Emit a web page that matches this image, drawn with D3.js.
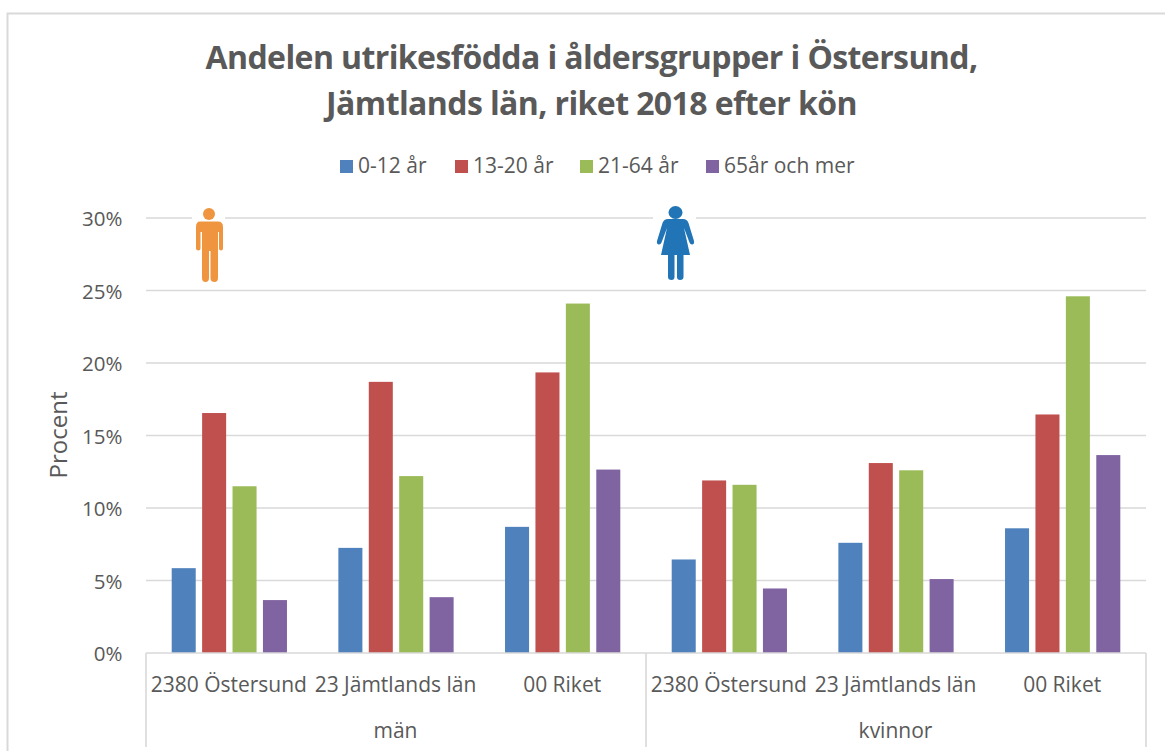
<!DOCTYPE html>
<html><head><meta charset="utf-8">
<script src="https://cdnjs.cloudflare.com/ajax/libs/d3/7.8.5/d3.min.js"></script>
<style>html,body{margin:0;padding:0;background:#fff;overflow:hidden}text{font-family:"Open Sans",sans-serif;fill:#595959}</style>
</head><body><svg id="c" width="1165" height="751"></svg>
<script>
const seriesNames=["0-12 år","13-20 år","21-64 år","65år och mer"];
const seriesColors=["#4f81bd","#c0504d","#9bbb59","#8064a2"];
const regions=["2380 Östersund","23 Jämtlands län","00 Riket"];
const genders=["män","kvinnor"];
const man=[[5.85,16.55,11.5,3.65],[7.25,18.7,12.2,3.85],[8.7,19.35,24.1,12.65]];
const kvinna=[[6.45,11.9,11.6,4.45],[7.6,13.1,12.6,5.1],[8.6,16.45,24.6,13.65]];
const yTicks=[0,5,10,15,20,25,30];
const svg=d3.select("#c");
const L=146,R=1146,T=218,B=653;
svg.append("path").attr("d","M7.5,751V13.5H1165").attr("fill","none").attr("stroke","#d9d9d9").attr("stroke-width",2);
const y=d3.scaleLinear().domain([0,30]).range([B,T]);
const gx=d3.scaleBand().domain(genders).range([L,R]);
const rx=d3.scaleBand().domain(regions).range([0,gx.bandwidth()]);
const bx=d3.scaleBand().domain(d3.range(4)).range([0,rx.bandwidth()]).paddingInner(0.21).paddingOuter(0.845);
const title=svg.append("text").attr("text-anchor","middle").attr("font-size",32).attr("font-weight",700).style("letter-spacing","-0.6px");
title.append("tspan").attr("x",591.500).attr("y",69).text("Andelen utrikesfödda i åldersgrupper i Östersund,");
title.append("tspan").attr("x",591.500).attr("y",115).text("Jämtlands län, riket 2018 efter kön");
const legX=[340,455,580,706];
seriesNames.forEach((s,i)=>{
 svg.append("rect").attr("x",legX[i]).attr("y",160).attr("width",13).attr("height",13).attr("fill",seriesColors[i]);
 svg.append("text").attr("x",legX[i]+18).attr("y",173).attr("font-size",21).text(s);
});
yTicks.forEach(t=>{
 if(t>0)svg.append("line").attr("x1",L).attr("x2",R).attr("y1",y(t)).attr("y2",y(t)).attr("stroke","#d9d9d9").attr("stroke-width",1.6);
 svg.append("text").attr("x",122.500).attr("y",y(t)+8).attr("text-anchor","end").attr("font-size",20.500).text(t+"%");
});
svg.append("text").attr("transform","translate(67,435) rotate(-90)").attr("text-anchor","middle").attr("font-size",24).text("Procent");
[man,kvinna].forEach((tbl,g)=>{
 tbl.forEach((vals,r)=>{
  const x0=gx(genders[g])+rx(regions[r]);
  vals.forEach((v,i)=>{
   svg.append("rect").attr("x",x0+bx(i)).attr("y",y(v)).attr("width",bx.bandwidth()).attr("height",y(0)-y(v)).attr("fill",seriesColors[i]);
  });
  svg.append("text").attr("x",x0+rx.bandwidth()/2-0.5).attr("y",692).attr("text-anchor","middle").attr("font-size",21).text(regions[r]);
 });
 svg.append("text").attr("x",gx(genders[g])+gx.bandwidth()/2-0.5).attr("y",738).attr("text-anchor","middle").attr("font-size",21).text(genders[g]);
});
svg.append("line").attr("x1",L).attr("x2",R).attr("y1",B).attr("y2",B).attr("stroke","#d9d9d9").attr("stroke-width",1.6);
[L,L+500,R].forEach(x=>svg.append("line").attr("x1",x).attr("x2",x).attr("y1",B).attr("y2",747).attr("stroke","#d9d9d9").attr("stroke-width",1.6));
const mi=svg.append("g").attr("fill","#f0953f");
mi.append("rect").attr("x",192).attr("y",205).attr("width",33).attr("height",26).attr("fill","#fff");
mi.append("circle").attr("cx",209).attr("cy",214).attr("r",6);
mi.append("path").attr("d","M200,221.500H218Q223,221.500 223,227V248.500Q223,250.500 221,250.500Q219,250.500 219,248.500V232H218V278Q218,282 214.500,282Q210.500,282 210.500,278V251H209V278Q209,282 205.500,282Q202,282 202,278V232H200.500V248.500Q200.500,250.500 198.500,250.500Q196,250.500 196,248.500V227Q196,221.500 200,221.500Z");
const fi=svg.append("g").attr("fill","#2175b6");
fi.append("rect").attr("x",653).attr("y",205).attr("width",43).attr("height",26).attr("fill","#fff");
fi.append("ellipse").attr("cx",675.500).attr("cy",212.500).attr("rx",7).attr("ry",6.500);
fi.append("path").attr("d","M668,219H683Q687,219 688.500,223L694,241Q694.500,244 692.500,244.500Q690.500,245 689.500,242.500L684,228L690,255H661L667,228L661.500,242.500Q660.500,245 658.500,244.500Q656.500,244 657,241L662.500,223Q664,219 668,219Z");
fi.append("path").attr("d","M668,254H674.500V277Q674.500,280 671.500,280Q668,280 668,277Z");
fi.append("path").attr("d","M677,254H683.500V277Q683.500,280 680,280Q677,280 677,277Z");
</script></body></html>
